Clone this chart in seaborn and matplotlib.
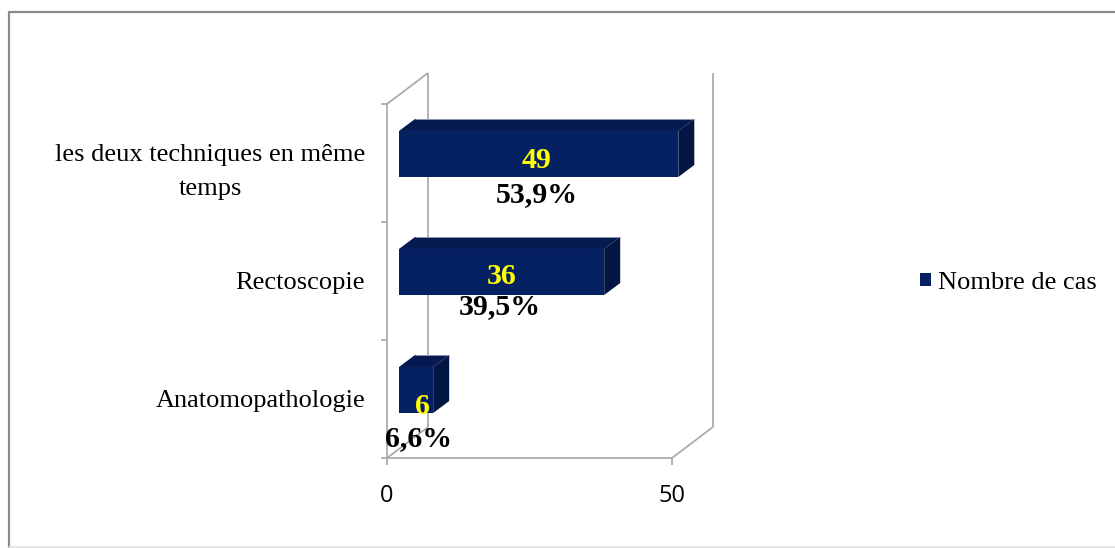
import matplotlib
matplotlib.use("Agg")
import matplotlib.pyplot as plt
from matplotlib.lines import Line2D
from matplotlib.patches import Polygon, Patch
from matplotlib.transforms import IdentityTransform, ScaledTranslation
import seaborn as sns

# Data
categories = ["les deux techniques en même\ntemps", "Rectoscopie", "Anatomopathologie"]
counts = [49, 36, 6]
percents = [53.9, 39.5, 6.6]
x_ticks = [0, 50]
series_name = "Nombre de cas"

FRONT = "#062162"
TOP = "#041a50"
SIDE = "#021543"
WALL = "#a6a6a6"
SERIF = "Liberation Serif"
SANS = "Open Sans"

sns.set_style("white")
plt.rcParams["font.family"] = [SERIF, "DejaVu Serif"]
plt.rcParams["text.color"] = "black"
plt.rcParams["xtick.color"] = "black"
plt.rcParams["ytick.color"] = "black"
plt.rcParams["xtick.labelcolor"] = "black"
plt.rcParams["ytick.labelcolor"] = "black"

W, H, DPI = 1115, 548, 100
fig = plt.figure(figsize=(W / DPI, H / DPI), dpi=DPI)
fig.patch.set_facecolor("white")

# Axes holds the bar plane of the 3-D box
ax = fig.add_axes([399 / W, 1 - 449 / H, 285 / W, 354 / H])
sns.barplot(x=counts, y=categories, orient="h", color=FRONT, saturation=1,
            width=0.39, ax=ax, zorder=3, linewidth=0)
ax.set_xlim(0, 50)
ax.set_ylim(2.5, -0.5)
ax.set_autoscale_on(False)
ax.set_facecolor("none")
for s in ax.spines.values():
    s.set_visible(False)
ax.set_xlabel("")
ax.set_ylabel("")

# Depth offsets in pixels (display coordinates, y up)
FRONT_OFF = (-12, -9)
BACK_OFF = (29, 22)
BAR_DEPTH = (16, 12)


def proj(x, y, off):
    px, py = ax.transData.transform((x, y))
    return px + off[0], py + off[1]


def seg(p, q, color=WALL, lw=1.2, z=1):
    ln = Line2D([p[0], q[0]], [p[1], q[1]], color=color, lw=lw,
                transform=IdentityTransform(), zorder=z, clip_on=False,
                solid_capstyle="butt")
    ax.add_line(ln)


y_top, y_bot = -0.5, 2.5
x0, x1 = x_ticks[0], x_ticks[-1]
# side wall
seg(proj(x0, y_top, FRONT_OFF), proj(x0, y_bot, FRONT_OFF))
seg(proj(x0, y_top, FRONT_OFF), proj(x0, y_top, BACK_OFF))
seg(proj(x0, y_top, BACK_OFF), proj(x0, y_bot, BACK_OFF))
# floor and gridline at the last tick
seg(proj(x0, y_bot, FRONT_OFF), proj(x1, y_bot, FRONT_OFF))
seg(proj(x0, y_bot, FRONT_OFF), proj(x0, y_bot, BACK_OFF))
seg(proj(x1, y_bot, FRONT_OFF), proj(x1, y_bot, BACK_OFF))
seg(proj(x1, y_bot, BACK_OFF), proj(x1, y_top, BACK_OFF))
# tick marks
for yb in [-0.5, 0.5, 1.5, 2.5]:
    p = proj(x0, yb, FRONT_OFF)
    seg((p[0] - 6, p[1]), p)
for xv in x_ticks:
    p = proj(xv, y_bot, FRONT_OFF)
    seg(p, (p[0], p[1] - 7))

# 3-D faces of each bar
for bar in list(ax.patches):
    bx, by = bar.get_x(), bar.get_y()
    bw, bh = bar.get_width(), bar.get_height()
    (ax_, ay_), (bx_, by_) = ax.transData.transform([(bx, by), (bx + bw, by + bh)])
    L, R = min(ax_, bx_), max(ax_, bx_)
    B, T = min(ay_, by_), max(ay_, by_)
    dx, dy = BAR_DEPTH
    top = Polygon([(L, T), (R, T), (R + dx, T + dy), (L + dx, T + dy)],
                  closed=True, facecolor=TOP, edgecolor="none",
                  transform=IdentityTransform(), zorder=3, clip_on=False)
    side = Polygon([(R, B), (R, T), (R + dx, T + dy), (R + dx, B + dy)],
                   closed=True, facecolor=SIDE, edgecolor="none",
                   transform=IdentityTransform(), zorder=3, clip_on=False)
    ax.add_patch(top)
    ax.add_patch(side)
    seg((L + dx, T + dy), (R + dx, T + dy), color="#8c96b4", lw=0.7, z=3.5)

# Value labels (count inside, share below)
count_offsets = [(-2, -3), (0, -1), (6, -13)]
pct_offsets = [(-2, -15), (-2, -9), (2, -23)]
for i, (c, p) in enumerate(zip(counts, percents)):
    ax.annotate(f"{c}", xy=(c / 2, i), xytext=count_offsets[i],
                textcoords="offset pixels", ha="center", va="center_baseline",
                color="#ffff00", fontsize=21.5, fontweight="bold",
                family=SERIF, zorder=5, annotation_clip=False)
    ax.annotate(f"{p:.1f}%".replace(".", ","), xy=(c / 2, i + 0.195),
                xytext=pct_offsets[i], textcoords="offset pixels",
                ha="center", va="center_baseline", color="black",
                fontsize=21.5, fontweight="bold", family=SERIF, zorder=5,
                annotation_clip=False)

# Category and value tick labels sit on the front plane
ax.tick_params(axis="y", length=0, pad=15.8, labelsize=19, labelcolor="black")
ax.tick_params(axis="x", length=0, pad=19, labelsize=17, labelcolor="black")
ax.set_xticks(x_ticks)
ax.set_xticklabels([str(v) for v in x_ticks])
front_shift = ScaledTranslation(FRONT_OFF[0] / DPI, FRONT_OFF[1] / DPI,
                                fig.dpi_scale_trans)
for lab in ax.get_yticklabels():
    lab.set_transform(lab.get_transform() + front_shift)
    lab.set_multialignment("center")
    lab.set_linespacing(1.75)
    lab.set_family(SERIF)
    lab.set_color("black")
for lab in ax.get_xticklabels():
    lab.set_transform(lab.get_transform() + front_shift)
    lab.set_family(SANS)
    lab.set_color("black")

# Legend
leg = fig.legend(handles=[Patch(facecolor=FRONT, edgecolor="none", label=series_name)],
                 loc="center left", bbox_to_anchor=(920 / W, 1 - 283 / H),
                 frameon=False, borderpad=0, borderaxespad=0,
                 handlelength=0.42, handleheight=0.42, handletextpad=0.27,
                 prop={"family": SERIF, "size": 19}, labelcolor="black")

# Chart frame
def fig_line(xs, ys, color, lw):
    fig.add_artist(Line2D([x / W for x in xs], [1 - y / H for y in ys],
                          color=color, lw=lw, transform=fig.transFigure))

fig_line([9, 9], [11.5, 548], "#8a8a8a", 1.6)
fig_line([9, W], [11.5, 11.5], "#8a8a8a", 1.6)
fig_line([9, W], [547, 547], "#e0e0e0", 1.2)

fig.savefig("out.png", dpi=DPI, facecolor="white")
